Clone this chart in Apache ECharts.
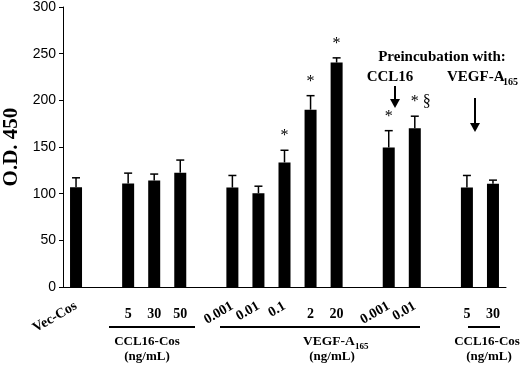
<!DOCTYPE html>
<html>
<head>
<meta charset="utf-8">
<script src="https://cdn.jsdelivr.net/npm/echarts@6/dist/echarts.min.js"></script>
<style>
  html, body { margin: 0; padding: 0; background: #fff; }
  #chart { width: 520px; height: 371px; }
</style>
</head>
<body>
<div id="chart"></div>
<script>
// one slot per bar position; empty slots are the gaps between groups
const slots = ['vec', 'g1', 'c5', 'c30', 'c50', 'g2', 'v0.001', 'v0.01', 'v0.1', 'v2', 'v20', 'g3', 'p0.001', 'p0.01', 'g4', 'pc5', 'pc30'];
const flatLabels = ['', '', '5', '30', '50', '', '', '', '', '2', '20', '', '', '', '', '5', '30'];
const tiltLabels = ['Vec-Cos', '', '', '', '', '', '0.001', '0.01', '0.1', '', '', '', '0.001', '0.01', '', '', ''];
const means = [107, null, 111, 114, 122.5, null, 106.5, 100.5, 133.5, 190, 240.5, null, 149.5, 170, null, 106.5, 110.5];
const errors = [10, null, 11, 7, 13.5, null, 13, 7.5, 13, 15, 5, null, 18, 13, null, 13, 4];
const marks = ['', '', '', '', '', '', '', '', '*', '*', '*', '', '*', '* \u00a7', '', '', ''];
const yTicks = { min: 0, max: 300, interval: 50 };

const serif = '"Liberation Serif", "Times New Roman", serif';
const sans = '"Liberation Sans", Arial, sans-serif';

const chart = echarts.init(document.getElementById('chart'));

const grid = { left: 63, right: 14, top: 7, bottom: 84, outerBoundsMode: 'none' };

function txt(text, x, y, size, align) {
  return {
    type: 'text',
    x: x,
    y: y,
    silent: true,
    style: {
      text: text,
      font: 'bold ' + size + 'px ' + serif,
      fill: '#000',
      align: align || 'center',
      verticalAlign: 'middle'
    }
  };
}

function hline(x1, x2, y) {
  return {
    type: 'line',
    silent: true,
    shape: { x1: x1, y1: y, x2: x2, y2: y },
    style: { stroke: '#000', lineWidth: 2 }
  };
}

function arrow(x, y1, y2) {
  return [
    {
      type: 'line',
      silent: true,
      shape: { x1: x, y1: y1, x2: x, y2: y2 - 6 },
      style: { stroke: '#000', lineWidth: 2 }
    },
    {
      type: 'polygon',
      silent: true,
      shape: { points: [[x - 5, y2 - 9], [x + 5, y2 - 9], [x, y2]] },
      style: { fill: '#000' }
    }
  ];
}

const option = {
  animation: false,
  backgroundColor: '#fff',
  grid: [grid, grid],
  xAxis: [
    {
      type: 'category',
      gridIndex: 0,
      data: slots,
      axisLine: { lineStyle: { color: '#000', width: 1 } },
      axisTick: { show: false },
      axisLabel: {
        interval: 0,
        margin: 20,
        color: '#000',
        fontFamily: serif,
        fontWeight: 'bold',
        fontSize: 14,
        formatter: (v, i) => flatLabels[i]
      }
    },
    {
      type: 'category',
      gridIndex: 1,
      data: slots,
      axisLine: { show: false },
      axisTick: { show: false },
      axisLabel: {
        interval: 0,
        rotate: 30,
        margin: 18,
        color: '#000',
        fontFamily: serif,
        fontWeight: 'bold',
        fontSize: 14,
        formatter: (v, i) => tiltLabels[i]
      }
    }
  ],
  yAxis: [
    {
      type: 'value',
      gridIndex: 0,
      min: yTicks.min,
      max: yTicks.max,
      interval: yTicks.interval,
      name: 'O.D. 450',
      nameLocation: 'middle',
      nameGap: 41,
      nameTextStyle: { color: '#000', fontFamily: serif, fontWeight: 'bold', fontSize: 21 },
      axisLine: { show: true, lineStyle: { color: '#000', width: 1 } },
      axisTick: { show: true, length: 4, lineStyle: { color: '#000' } },
      axisLabel: { color: '#000', fontFamily: sans, fontSize: 14, margin: 7 },
      splitLine: { show: false }
    },
    {
      type: 'value',
      gridIndex: 1,
      min: yTicks.min,
      max: yTicks.max,
      show: false
    }
  ],
  series: [
    {
      type: 'bar',
      xAxisIndex: 0,
      yAxisIndex: 0,
      data: means,
      barWidth: 12,
      itemStyle: { color: '#000' }
    },
    {
      type: 'custom',
      xAxisIndex: 0,
      yAxisIndex: 0,
      data: means.map((m, i) => [i, m, errors[i]]).filter(d => d[1] != null),
      z: 3,
      renderItem: (params, api) => {
        const i = api.value(0);
        const m = api.value(1);
        const e = api.value(2);
        const base = api.coord([i, m]);
        const top = api.coord([i, m + e]);
        const children = [
          { type: 'line', shape: { x1: base[0], y1: base[1], x2: top[0], y2: top[1] }, style: { stroke: '#000', lineWidth: 1.5 } },
          { type: 'line', shape: { x1: top[0] - 4, y1: top[1], x2: top[0] + 4, y2: top[1] }, style: { stroke: '#000', lineWidth: 1.5 } }
        ];
        if (marks[i]) {
          children.push({
            type: 'text',
            x: top[0] - 4,
            y: top[1] - 6,
            style: { text: marks[i], font: '16px ' + serif, fill: '#000', align: 'left', verticalAlign: 'bottom' }
          });
        }
        return { type: 'group', children: children };
      }
    }
  ],
  graphic: [
    // group lines and labels under the axis
    hline(109, 195, 327),
    txt('CCL16-Cos', 147, 342, 13),
    txt('(ng/mL)', 147, 357, 13),
    hline(220, 420, 327),
    txt('VEGF-A', 303, 342, 13.5, 'left'),
    txt('165', 355, 347, 9, 'left'),
    txt('(ng/mL)', 332, 357, 13),
    hline(468, 500, 327),
    txt('CCL16-Cos', 487, 342, 13),
    txt('(ng/mL)', 489, 357, 13),
    // preincubation annotation
    txt('Preincubation with:', 442, 57, 15),
    txt('CCL16', 390, 77, 15),
    txt('VEGF-A', 447, 77, 15, 'left'),
    txt('165', 503, 82, 10, 'left'),
    ...arrow(395, 86, 108),
    ...arrow(475, 98, 132)
  ]
};

chart.setOption(option);

window.addEventListener('resize', () => chart.resize());
</script>
</body>
</html>
